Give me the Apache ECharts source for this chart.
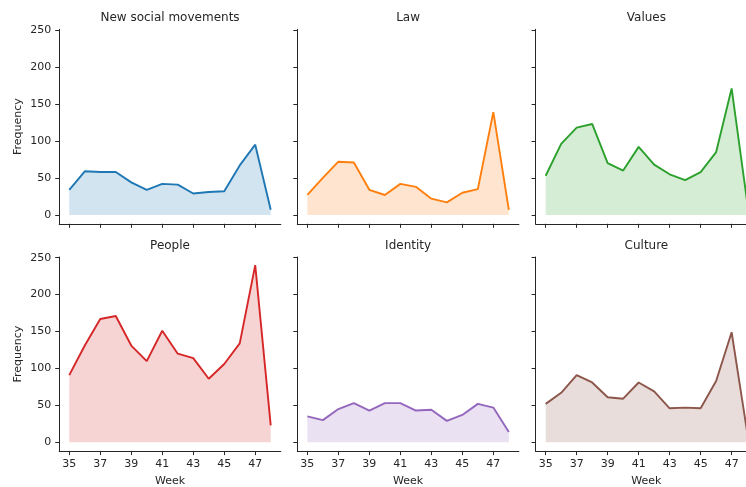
<!DOCTYPE html>
<html>
<head>
<meta charset="utf-8">
<script src="https://cdn.jsdelivr.net/npm/echarts@6/dist/echarts.min.js"></script>
<style>
html,body{margin:0;padding:0;background:#fff;}
#chart{width:746px;height:487px;}
</style>
</head>
<body>
<div id="chart"></div>
<script>
const weeks = [35, 36, 37, 38, 39, 40, 41, 42, 43, 44, 45, 46, 47, 48];
const titles = ['New social movements', 'Law', 'Values', 'People', 'Identity', 'Culture'];
const newSocialMovements = [34, 59, 58, 58, 44, 34, 42, 41, 29, 31, 32, 67, 95, 7];
const law = [27, 50, 72, 71, 34, 27, 42, 38, 22, 17, 30, 35, 139, 7];
const values = [53, 96, 118, 123, 70, 60, 92, 68, 55, 47, 58, 85, 171, 18];
const people = [91, 131, 167, 171, 131, 110, 151, 120, 114, 86, 106, 134, 240, 23];
const identity = [35, 30, 45, 53, 43, 53, 53, 43, 44, 29, 37, 52, 47, 14];
const culture = [52, 67, 91, 81, 61, 59, 81, 69, 46, 47, 46, 83, 149, 14];
const xTicks = [35, 37, 39, 41, 43, 45, 47];
const yTicks = [0, 50, 100, 150, 200, 250];
const colors = ['#1f77b4', '#ff7f0e', '#2ca02c', '#d62728', '#9467bd', '#8c564b'];
const seriesData = [newSocialMovements, law, values, people, identity, culture];

const FONT = 'DejaVu Sans';
const TXT = '#262626';
const colLeft = [59.2, 297.3, 535.6];
const panelW = 221.6;
const rowTop = [29.3, 257.0];
const rowH = [194.5, 194.1];

const grids = [], xAxes = [], yAxes = [], series = [], titleArr = [];
for (let i = 0; i < 6; i++) {
  const r = Math.floor(i / 3), c = i % 3;
  grids.push({left: colLeft[c], top: rowTop[r], width: panelW, height: rowH[r], outerBoundsMode: 'none', containLabel: false});
  xAxes.push({
    type: 'value', gridIndex: i, min: 34.35, max: 48.65,
    axisLine: {show: true, onZero: false, lineStyle: {color: TXT, width: 1}},
    axisTick: {show: true, length: 4, customValues: xTicks, lineStyle: {color: TXT, width: 1}},
    axisLabel: {show: r === 1, customValues: xTicks, margin: 7.5, color: TXT, fontFamily: FONT, fontSize: 11},
    splitLine: {show: false},
    name: r === 1 ? 'Week' : '', nameLocation: 'middle', nameGap: 25,
    nameTextStyle: {color: TXT, fontFamily: FONT, fontSize: 11}
  });
  yAxes.push({
    type: 'value', gridIndex: i, min: -11.95, max: 250.95,
    axisLine: {show: true, onZero: false, lineStyle: {color: TXT, width: 1}},
    axisTick: {show: true, length: 4, customValues: yTicks, lineStyle: {color: TXT, width: 1}},
    axisLabel: {show: c === 0, customValues: yTicks, margin: 8, color: TXT, fontFamily: FONT, fontSize: 11},
    splitLine: {show: false},
    name: c === 0 ? 'Frequency' : '', nameLocation: 'middle', nameGap: 36,
    nameTextStyle: {color: TXT, fontFamily: FONT, fontSize: 11}
  });
  series.push({
    type: 'line', xAxisIndex: i, yAxisIndex: i,
    data: weeks.map((w, k) => [w, seriesData[i][k]]),
    symbol: 'none', lineStyle: {color: colors[i], width: 1.9},
    areaStyle: {color: colors[i], opacity: 0.2, origin: 0},
    animation: false
  });
  titleArr.push({
    text: titles[i], left: colLeft[c] + panelW / 2, top: rowTop[r] - 17.5, textAlign: 'center', padding: 0,
    textStyle: {color: TXT, fontFamily: FONT, fontSize: 12, fontWeight: 'normal'}
  });
}

const chart = echarts.init(document.getElementById('chart'), null, {renderer: 'canvas'});
chart.setOption({
  animation: false,
  backgroundColor: '#fff',
  title: titleArr,
  grid: grids,
  xAxis: xAxes,
  yAxis: yAxes,
  series: series
});
</script>
</body>
</html>
